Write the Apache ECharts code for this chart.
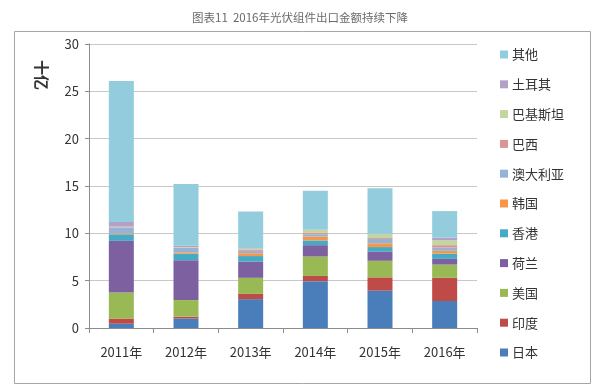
<!DOCTYPE html>
<html><head><meta charset="utf-8">
<script src="https://cdn.jsdelivr.net/npm/echarts@6/dist/echarts.min.js"></script>
<style>html,body{margin:0;padding:0;background:#fff}#c{width:600px;height:388px}</style>
</head><body><div id="c"></div>
<script>
const categories = ['2011年','2012年','2013年','2014年','2015年','2016年'];
const seriesNames = ['日本','印度','美国','荷兰','香港','韩国','澳大利亚','巴西','巴基斯坦','土耳其','其他'];
const japan     = [0.45, 1.0, 3.05, 4.95, 3.95, 2.85];
const india     = [0.55, 0.2, 0.55, 0.55, 1.4, 2.45];
const usa       = [2.75, 1.75, 1.7, 2.05, 1.75, 1.4];
const netherlands = [5.45, 4.2, 1.7, 1.2, 0.95, 0.6];
const hongkong  = [0.7, 0.7, 0.6, 0.5, 0.5, 0.55];
const korea     = [0.1, 0.15, 0.3, 0.4, 0.4, 0.3];
const australia = [0.6, 0.45, 0.25, 0.25, 0.45, 0.35];
const brazil    = [0.05, 0.05, 0.15, 0.15, 0.1, 0.25];
const pakistan  = [0.05, 0.05, 0.1, 0.3, 0.4, 0.5];
const turkey    = [0.5, 0.15, 0.05, 0.05, 0.05, 0.3];
const others    = [14.9, 6.5, 3.85, 4.1, 4.8, 2.8];
const yTicks = [0, 5, 10, 15, 20, 25, 30];

const values = [japan, india, usa, netherlands, hongkong, korea, australia, brazil, pakistan, turkey, others];
const colors = ['#4A7EBB','#BE4B48','#98B954','#7D60A0','#46AAC5','#F79646','#95B3D7','#D99694','#C3D69B','#B3A2C7','#93CDDD'];

const chart = echarts.init(document.getElementById('c'), null, {renderer:'canvas'});
chart.setOption({
  animation: false,
  backgroundColor: '#fff',
  title: {
    text: '图表11  2016年光伏组件出口金额持续下降',
    left: 'center', top: 7,
    textStyle: {fontSize: 11.5, fontWeight: 'normal', color: '#6a6a6a', fontFamily: 'Noto Sans CJK SC'}
  },
  graphic: [
    {type:'rect', left: 12, top: 29, shape:{width: 576, height: 352},
     style:{fill:'none', stroke:'#a6a6a6', lineWidth:1}, silent:true},
    {type:'text', x: 49, y: 60, rotation: -Math.PI/2,
     style:{text:'十亿', font:'bold 15px "Noto Sans CJK SC"', fill:'#333'}}
  ],
  legend: {
    orient: 'vertical', left: 495, top: 43, itemGap: 16.8,
    itemWidth: 8, itemHeight: 8, icon: 'rect',
    textStyle: {fontSize: 13, color: '#333', fontFamily: 'Noto Sans CJK SC', padding:[0,0,0,-1]},
    data: seriesNames.slice().reverse()
  },
  grid: {left: 89, right: 123, top: 44, bottom: 60, containLabel: false},
  xAxis: {
    type: 'category', data: categories,
    axisLine: {lineStyle: {color: '#8c8c8c'}},
    axisTick: {show: true, length: 5, lineStyle:{color:'#8c8c8c'}},
    axisLabel: {fontSize: 13, color: '#333', margin: 18, fontFamily: 'Noto Sans CJK SC'}
  },
  yAxis: {
    type: 'value', min: yTicks[0], max: yTicks[yTicks.length-1], interval: 5,
    axisLine: {show: true, lineStyle: {color: '#8c8c8c'}},
    axisTick: {show: true, length: 4, lineStyle:{color:'#8c8c8c'}},
    axisLabel: {fontSize: 13, color: '#333', margin: 10, fontFamily: 'Noto Sans CJK SC'},
    splitLine: {lineStyle: {color: '#c8c8c8'}}
  },
  series: seriesNames.map((n, i) => ({
    name: n, type: 'bar', stack: 'total', barWidth: 25,
    data: values[i],
    itemStyle: {color: colors[i]}
  }))
});
</script></body></html>
